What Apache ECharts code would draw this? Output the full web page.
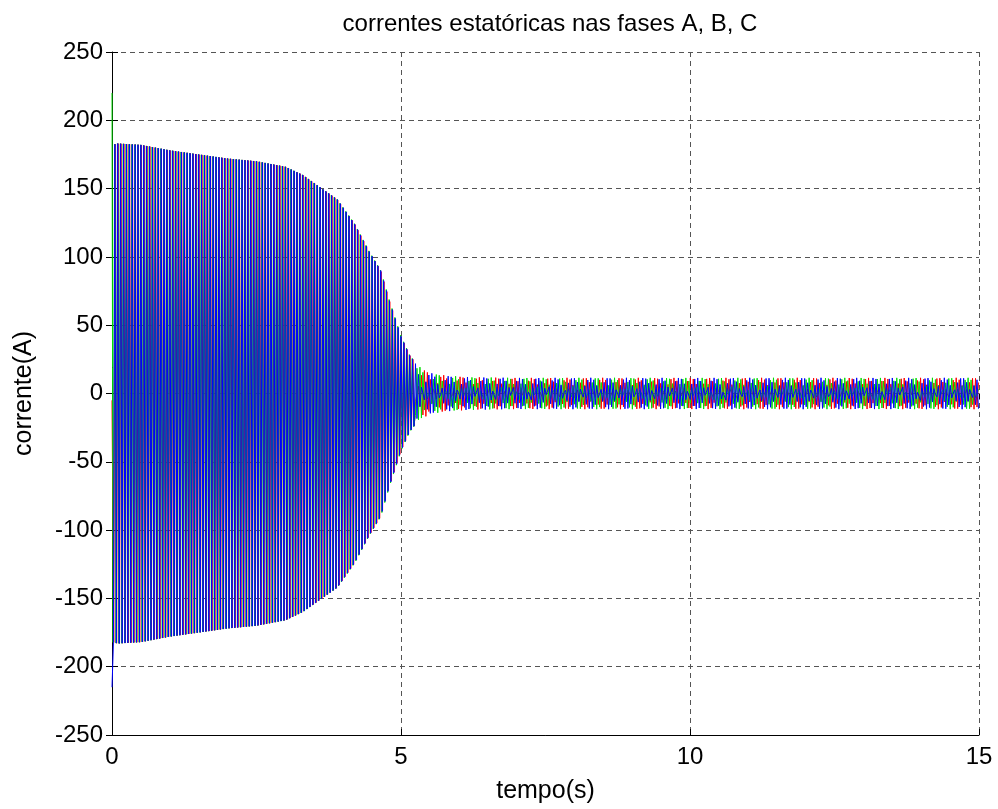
<!DOCTYPE html>
<html>
<head>
<meta charset="utf-8">
<script src="https://cdn.jsdelivr.net/npm/echarts@6/dist/echarts.min.js"></script>
<style>html,body{margin:0;padding:0;background:#fff}#c{width:998px;height:809px}</style>
</head>
<body>
<div id="c"></div>
<script>
// ---- values ----
const titleText = 'correntes estatóricas nas fases A, B, C';
const xName = 'tempo(s)';
const yName = 'corrente(A)';
const xTicks = [0, 5, 10, 15];
const yTicks = [-250, -200, -150, -100, -50, 0, 50, 100, 150, 200, 250];
// envelope of the phase currents (time s, peak A)
const envT = [0, 0.1, 0.5, 1.0, 1.5, 2.0, 2.5, 3.0, 3.3, 3.6, 3.9, 4.2, 4.45, 4.65, 4.8, 5.0, 5.15, 5.3, 5.5, 5.8, 6.2, 7, 15];
const envA = [182, 183, 182, 178, 175, 172, 170, 166, 160, 151, 142, 124, 104, 90, 68, 42, 28, 20, 15, 13, 12, 11.5, 11.5];
// first samples (inrush spike at t = 0)
const initA = -5, initB = 220, initC = -215;
// output sampling of the simulation: segment end time (s), step (s), per-phase logging offset (s)
const segEnd = [5.2, 15];
const segStep = [0.025, 0.0257];
const segOffset = [[1 / 180, -1 / 180, 0], [0, 0, 0]];
const supplyHz = 60;
const seriesNames = ['ia', 'ib', 'ic'];
const seriesColors = ['#ff0000', '#00e000', '#0000ff'];
const seriesWidths = [1, 1, 1];

function envAt(t) {
  for (let i = 1; i < envT.length; i++) {
    if (t <= envT[i]) {
      const f = (t - envT[i - 1]) / (envT[i] - envT[i - 1]);
      return envA[i - 1] + f * (envA[i] - envA[i - 1]);
    }
  }
  return envA[envA.length - 1];
}
// sample grid: [time, segment]
const grid = [[0, 0]];
{
  let s = 0, base = 0, m = 0;
  while (true) {
    m++;
    const t = base + m * segStep[s];
    if (t > 15) break;
    grid.push([t, s]);
    if (t > segEnd[s] && s < segEnd.length - 1) { base = t; m = 0; s++; }
  }
}
const w = 2 * Math.PI * supplyHz;
const phiC = Math.PI / 2 - w * grid[100][0];
const phases = [phiC - 2 * Math.PI / 3, phiC + 2 * Math.PI / 3, phiC];
const inits = [initA, initB, initC];
const seriesData = [[], [], []];
grid.forEach(([t0, s], n) => {
  for (let k = 0; k < 3; k++) {
    const t = n === 0 ? 0 : Math.min(15, Math.max(0, t0 + segOffset[s][k]));
    const v = n === 0 ? inits[k] : envAt(t) * Math.sin(w * t + phases[k]);
    seriesData[k].push([t, v]);
  }
});

const font = 'Liberation Sans, Arial, Helvetica, sans-serif';
const chart = echarts.init(document.getElementById('c'), null, { renderer: 'canvas' });
const gridLine = { show: true, lineStyle: { color: '#555', width: 1, type: [5, 4] } };
chart.setOption({
  animation: false,
  backgroundColor: '#fff',
  title: {
    text: titleText, left: 545, top: 7, textAlign: 'center',
    textStyle: { fontFamily: font, fontSize: 24, fontWeight: 'normal', color: '#000' }
  },
  grid: { left: 112, right: 19, top: 52, bottom: 74, containLabel: false },
  xAxis: [{
    type: 'value', min: 0, max: 15, interval: 5,
    name: xName, nameLocation: 'middle', nameGap: 44,
    nameTextStyle: { fontFamily: font, fontSize: 25, color: '#000' },
    axisLine: { show: true, onZero: false, lineStyle: { color: '#000', width: 1 } },
    axisTick: { show: true, inside: true, length: 6, lineStyle: { color: '#000' } },
    axisLabel: { fontFamily: font, fontSize: 24, color: '#000', margin: 10,
      formatter: v => xTicks.includes(v) ? String(v) : '' },
    splitLine: gridLine
  }, {
    type: 'value', min: 0, max: 15, interval: 5, position: 'top',
    axisLine: { show: false }, axisLabel: { show: false }, splitLine: { show: false },
    axisTick: { show: true, inside: true, length: 6, lineStyle: { color: '#000' } }
  }],
  yAxis: [{
    type: 'value', min: -250, max: 250, interval: 50,
    name: yName, nameLocation: 'middle', nameGap: 75, nameRotate: 90,
    nameTextStyle: { fontFamily: font, fontSize: 25, color: '#000' },
    axisLine: { show: true, onZero: false, lineStyle: { color: '#000', width: 1 } },
    axisTick: { show: true, inside: true, length: 6, lineStyle: { color: '#000' } },
    axisLabel: { fontFamily: font, fontSize: 24, color: '#000', margin: 9,
      formatter: v => yTicks.includes(v) ? String(v) : '' },
    splitLine: gridLine
  }, {
    type: 'value', min: -250, max: 250, interval: 50, position: 'right',
    axisLine: { show: false }, axisLabel: { show: false }, splitLine: { show: false },
    axisTick: { show: true, inside: true, length: 6, lineStyle: { color: '#000' } }
  }],
  series: seriesNames.map((nm, k) => ({
    name: nm, type: 'line', data: seriesData[k], showSymbol: false, symbol: 'none',
    sampling: null, clip: true, z: 2 + k,
    lineStyle: { color: seriesColors[k], width: seriesWidths[k] }
  }))
});
</script>
</body>
</html>
